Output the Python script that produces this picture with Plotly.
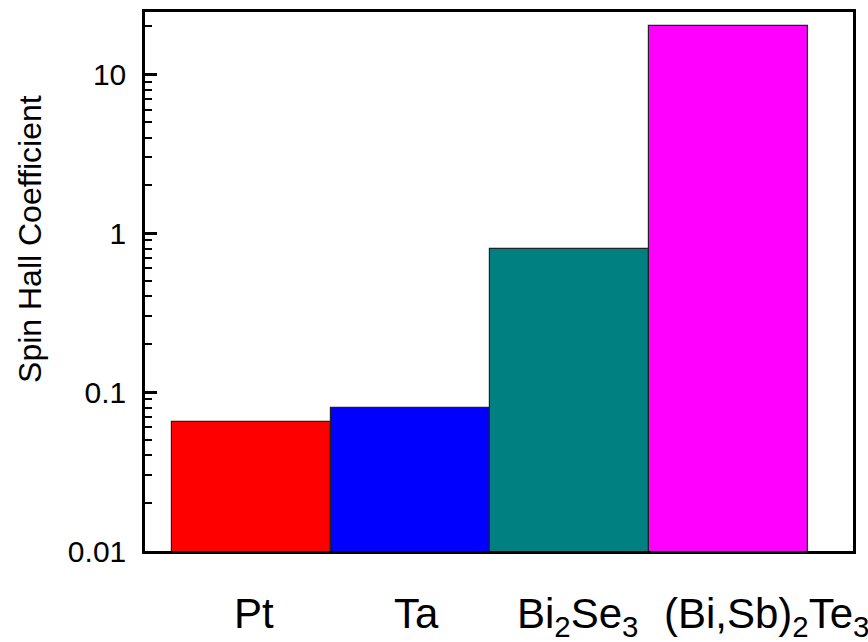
import plotly.graph_objects as go

materials = ["Pt", "Ta", "Bi<sub>2</sub>Se<sub>3</sub>", "(Bi,Sb)<sub>2</sub>Te<sub>3</sub>"]
coefficients = [0.065, 0.08, 0.79, 20.0]
bar_colors = ["#FF0000", "#0000FF", "#008080", "#FF00FF"]
y_tick_vals = [0.01, 0.1, 1, 10]
y_tick_text = ["0.01", "0.1", "1", "10"]
y_title = "Spin Hall Coefficient"
label_xshift = [3, 6, 8, 38]

FONT = "Arial, Liberation Sans, sans-serif"
idx = list(range(len(materials)))

fig = go.Figure()
fig.add_trace(go.Bar(
    x=idx, y=coefficients,
    marker=dict(color=bar_colors, line=dict(color="#222222", width=1.2)),
    width=1.0,
))

for i, (name, dx) in enumerate(zip(materials, label_xshift)):
    fig.add_annotation(x=i, y=0, xref="x", yref="paper", text=name,
                       showarrow=False, xanchor="center", yanchor="top",
                       xshift=dx, yshift=-37,
                       font=dict(family=FONT, size=42, color="black"))

fig.add_annotation(x=-0.1624, y=0.579, xref="paper", yref="paper", text=y_title,
                   textangle=-90, showarrow=False, xanchor="center", yanchor="middle",
                   font=dict(family=FONT, size=32, color="black"))

fig.update_layout(
    width=868, height=642,
    margin=dict(l=145, r=15, t=9, b=91),
    paper_bgcolor="white", plot_bgcolor="white",
    bargap=0, showlegend=False,
    font=dict(family=FONT, color="black"),
)
fig.update_xaxes(
    range=[-0.667, 3.786], showticklabels=False, ticks="",
    showgrid=False, zeroline=False,
    showline=True, mirror=True, linecolor="black", linewidth=2.5,
)
fig.update_yaxes(
    type="log", range=[-2, 1.392],
    tickvals=y_tick_vals, ticktext=y_tick_text,
    ticks="inside", ticklen=12, tickwidth=2.5, tickcolor="black",
    minor=dict(ticks="inside", ticklen=7, tickwidth=2, tickcolor="black", dtick="D1", showgrid=False),
    tickfont=dict(family=FONT, size=30, color="black"),
    ticklabelstandoff=10,
    showgrid=False, zeroline=False,
    showline=True, mirror=True, linecolor="black", linewidth=2.5,
)

fig.write_html("out.html")
